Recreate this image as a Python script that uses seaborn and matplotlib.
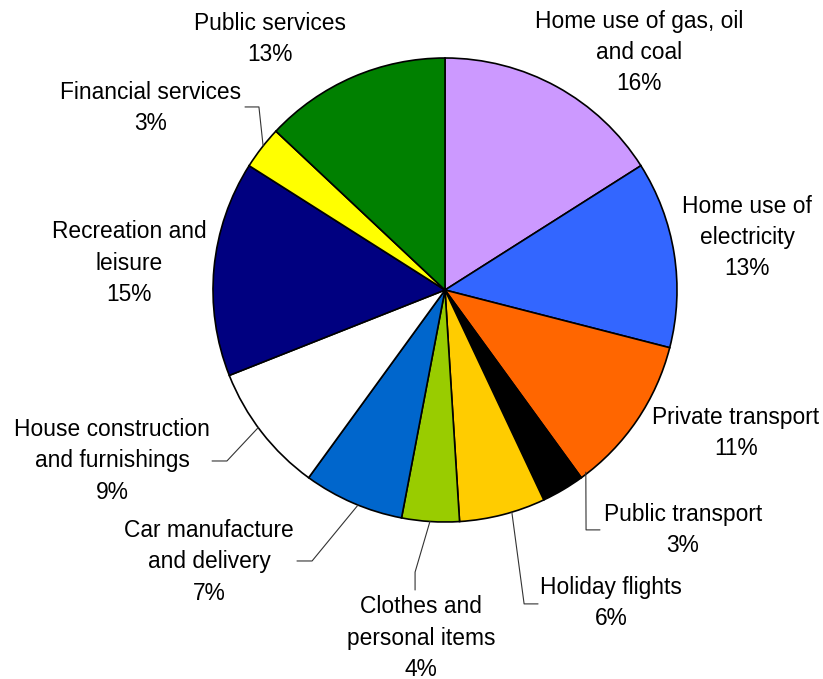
import matplotlib
matplotlib.use("Agg")
import matplotlib.pyplot as plt
import seaborn as sns

# data
categories = ['Home use of gas, oil\nand coal', 'Home use of\nelectricity', 'Private transport',
              'Public transport', 'Holiday flights', 'Clothes and\npersonal items',
              'Car manufacture\nand delivery', 'House construction\nand furnishings',
              'Recreation and\nleisure', 'Financial services', 'Public services']
shares = [16, 13, 11, 3, 6, 4, 7, 9, 15, 3, 13]
colors = ['#CC99FF', '#3366FF', '#FF6600', '#000000', '#FFCC00', '#99CC00',
          '#0066CC', '#FFFFFF', '#000080', '#FFFF00', '#008000']

# label placement (in pie-radius units)
label_pos = [(0.836, 1.022), (1.302, 0.228), (1.254, -0.616), (1.026, -1.034),
             (0.716, -1.349), (-0.103, -1.50), (-1.017, -1.172), (-1.435, -0.737),
             (-1.362, 0.116), (-1.267, 0.784), (-0.754, 1.082)]
# leader lines: rim point, elbow, end
leaders = {3: [(0.607, -0.785), (0.608, -1.034), (0.668, -1.034)],
           4: [(0.288, -0.957), (0.341, -1.353), (0.401, -1.353)],
           5: [(-0.065, -0.998), (-0.129, -1.216), (-0.129, -1.293)],
           6: [(-0.375, -0.927), (-0.573, -1.168), (-0.638, -1.168)],
           7: [(-0.805, -0.593), (-0.940, -0.737), (-1.004, -0.737)],
           9: [(-0.784, 0.621), (-0.802, 0.789), (-0.862, 0.789)]}

sns.set_theme(style="white")
plt.rcParams['font.family'] = ['Liberation Sans', 'DejaVu Sans']

fig = plt.figure(figsize=(8.23, 6.79), dpi=100)
ax = fig.add_axes([0, 0, 1, 1])

ax.pie(shares, colors=colors, startangle=90, counterclock=False, radius=1,
       wedgeprops=dict(edgecolor='black', linewidth=1.2))

for i, (name, val) in enumerate(zip(categories, shares)):
    x, y = label_pos[i]
    ax.text(x, y, f"{name}\n{val}%", ha='center', va='center', fontsize=16.4,
            linespacing=1.45, color='black')
    if i in leaders:
        xs, ys = zip(*leaders[i])
        ax.plot(xs, ys, color='#333333', linewidth=0.8)

ax.set_xlim(-445 / 232, (823 - 445) / 232)
ax.set_ylim(-(679 - 290) / 232, 290 / 232)
ax.set_aspect('auto')
ax.axis('off')

fig.savefig('out.png', dpi=100, facecolor='white')
